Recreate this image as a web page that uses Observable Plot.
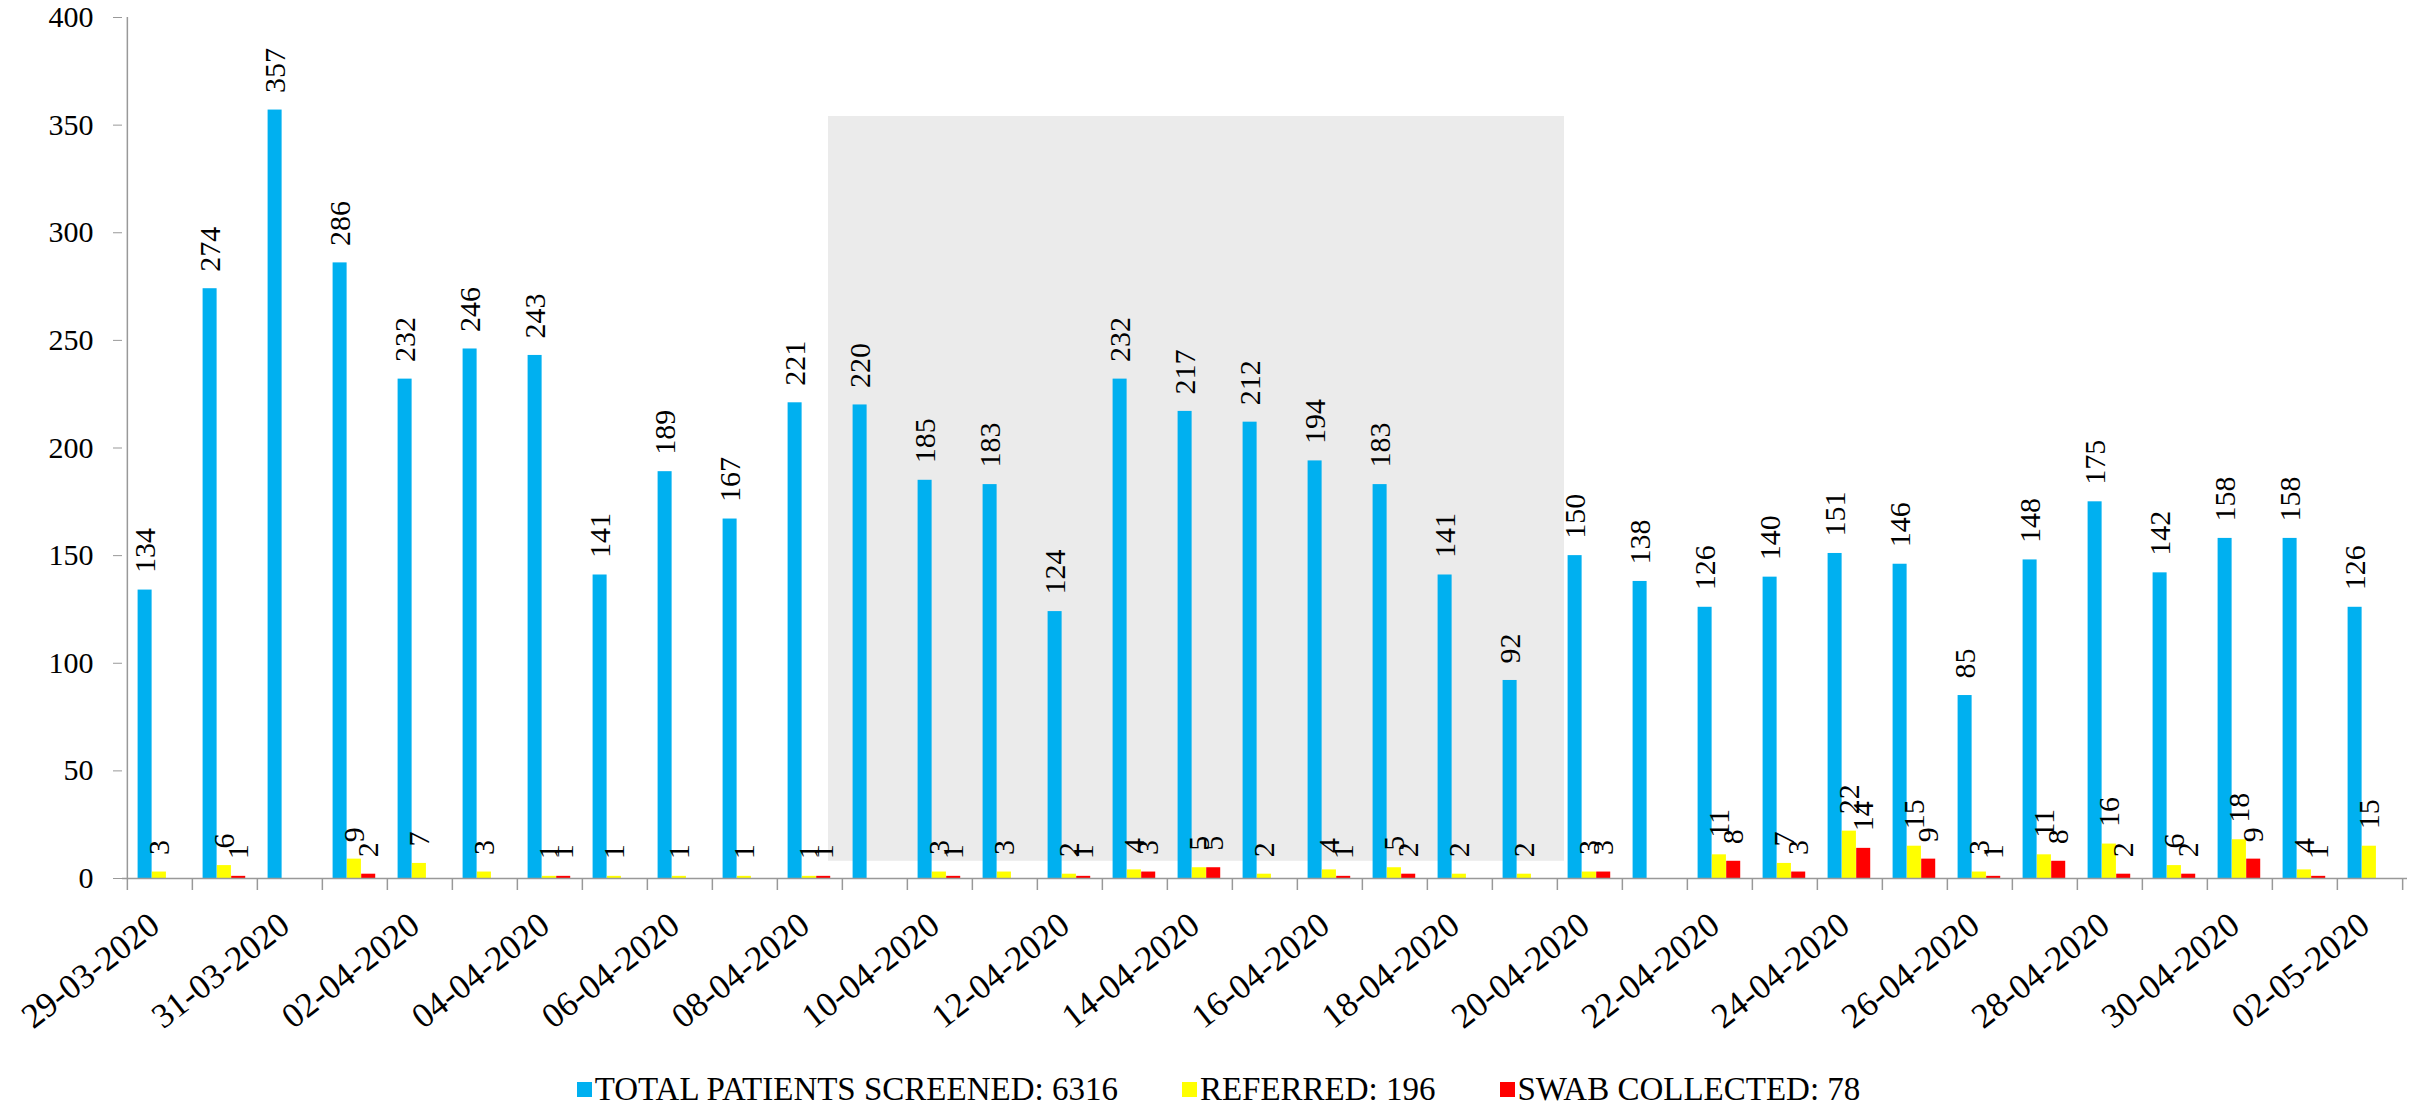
<!DOCTYPE html>
<html>
<head>
<meta charset="utf-8">
<script src="https://cdn.jsdelivr.net/npm/d3@7"></script>
<script src="https://cdn.jsdelivr.net/npm/@observablehq/plot@0.6"></script>
<style>
  html, body { margin: 0; padding: 0; background: #fff; }
  #chart svg { display: block; }
  .legend { display: flex; justify-content: center; align-items: flex-start; height: 58px; box-sizing: border-box;
    padding-top: 23px; padding-left: 17px; font-family: "Liberation Serif", serif; font-size: 33px; line-height: 33px; color: #000; }
  .item { display: flex; align-items: center; margin: 0 32px; }
  .sw { width: 15px; height: 15px; margin-right: 3px; }
</style>
</head>
<body>
<div id="chart"></div>
<div class="legend" id="legend"></div>
<script>
const dates = [
  "29-03-2020","30-03-2020","31-03-2020","01-04-2020","02-04-2020","03-04-2020","04-04-2020",
  "05-04-2020","06-04-2020","07-04-2020","08-04-2020","09-04-2020","10-04-2020","11-04-2020",
  "12-04-2020","13-04-2020","14-04-2020","15-04-2020","16-04-2020","17-04-2020","18-04-2020",
  "19-04-2020","20-04-2020","21-04-2020","22-04-2020","23-04-2020","24-04-2020","25-04-2020",
  "26-04-2020","27-04-2020","28-04-2020","29-04-2020","30-04-2020","01-05-2020","02-05-2020"
];
const screened = [134,274,357,286,232,246,243,141,189,167,221,220,185,183,124,232,217,212,194,183,141,92,150,138,126,140,151,146,85,148,175,142,158,158,126];
const referred = [3,6,0,9,7,3,1,1,1,1,1,0,3,3,2,4,5,2,4,5,2,2,3,0,11,7,22,15,3,11,16,6,18,4,15];
const swab     = [0,1,0,2,0,0,1,0,0,0,1,0,1,0,1,3,5,0,1,2,0,0,3,0,8,3,14,9,1,8,2,2,9,1,0];

const seriesNames = ["TOTAL PATIENTS SCREENED", "REFERRED", "SWAB COLLECTED"];
const seriesColors = ["#00B0F0", "#FFFF00", "#FF0000"];
const seriesValues = [screened, referred, swab];
const yTicks = [0, 50, 100, 150, 200, 250, 300, 350, 400];
const labelDates = dates.filter((d, i) => i % 2 === 0);

// faint grey background panel seen in the source image
const shadeFrom = "09-04-2020";
const shadeTo = "20-04-2020";
const shadeLow = 8;
const shadeHigh = 354;

const W = 2420, H = 1050, ML = 122, MR = 13, MT = 17, MB = 172;
const bw = (W - ML - MR) / dates.length;
const barW = 14.3, groupStart = 10.6;
const AXIS = "#999999";

const barMarks = [];
const textMarks = [];
seriesValues.forEach((vals, k) => {
  const rows = dates.map((d, i) => ({date: d, value: vals[i]}));
  const left = groupStart + k * barW;
  const right = bw - left - barW;
  barMarks.push(Plot.barY(rows, {x: "date", y: "value", fill: seriesColors[k], insetLeft: left, insetRight: right}));
  textMarks.push(Plot.text(rows.filter(r => r.value > 0), {
    x: "date", y: "value", text: r => String(r.value), rotate: -90, textAnchor: "start",
    dy: -17, dx: left + barW / 2 - bw / 2, fontSize: 30, fill: "#000"
  }));
});

const chart = Plot.plot({
  width: W, height: H,
  marginLeft: ML, marginRight: MR, marginTop: MT, marginBottom: MB,
  style: {fontFamily: "Liberation Serif, serif", fontSize: "30px", background: "#fff", color: "#000"},
  x: {type: "band", domain: dates, padding: 0},
  y: {domain: [0, 400]},
  marks: [
    Plot.rect([{a: shadeFrom, b: shadeTo, lo: shadeLow, hi: shadeHigh}], {x1: "a", x2: "b", y1: "lo", y2: "hi", fill: "#ebebeb", insetLeft: -14, insetRight: 58}),
    ...barMarks,
    Plot.ruleY([0], {stroke: AXIS, strokeWidth: 1.5}),
    Plot.ruleX([dates[0]], {x: d => d, y1: 0, y2: 400, dx: -bw / 2, stroke: AXIS, strokeWidth: 1.5}),
    Plot.ruleX(dates, {x: d => d, y1: 0, y2: 0, insetBottom: -12, dx: -bw / 2, stroke: AXIS, strokeWidth: 1.5}),
    Plot.ruleX([dates[dates.length - 1]], {x: d => d, y1: 0, y2: 0, insetBottom: -12, dx: bw / 2, stroke: AXIS, strokeWidth: 1.5}),
    Plot.axisY({ticks: yTicks, tickSize: 9, tickPadding: 20, fontSize: 30, stroke: AXIS, fill: "#000", label: null}),
    Plot.axisX({ticks: labelDates, tickSize: 0, tickPadding: 42, tickRotate: -38, fontSize: 35, dx: -5, fill: "#000", label: null}),
    ...textMarks
  ]
});
document.getElementById("chart").appendChild(chart);

const legend = document.getElementById("legend");
seriesNames.forEach((name, k) => {
  const item = document.createElement("div");
  item.className = "item";
  const sw = document.createElement("span");
  sw.className = "sw";
  sw.style.background = seriesColors[k];
  const t = document.createElement("span");
  t.textContent = name + ": " + d3.sum(seriesValues[k]);
  item.appendChild(sw);
  item.appendChild(t);
  legend.appendChild(item);
});
</script>
</body>
</html>
